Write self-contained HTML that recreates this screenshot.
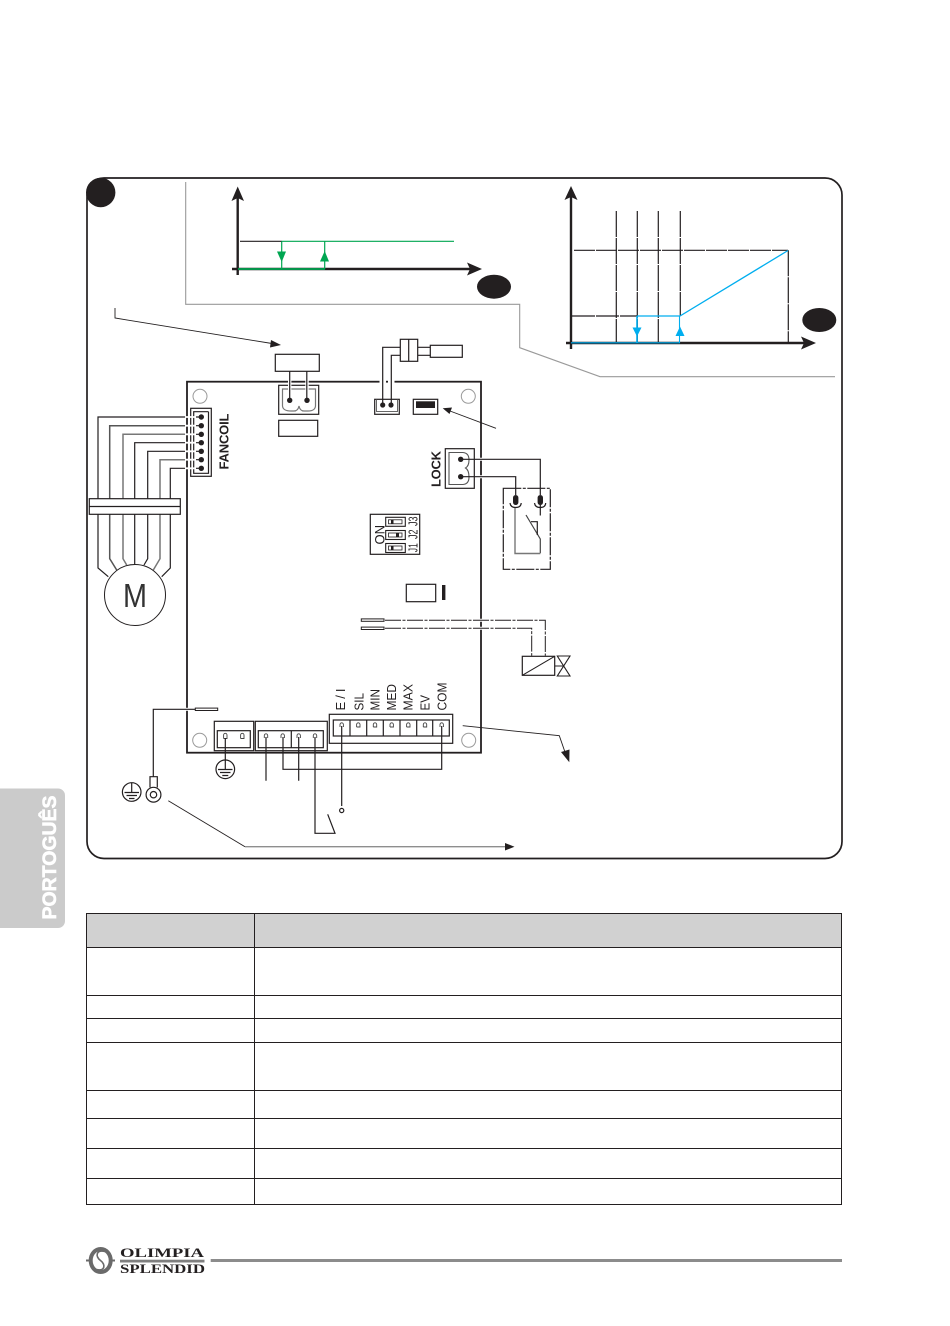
<!DOCTYPE html>
<html><head><meta charset="utf-8"><style>
html,body{margin:0;padding:0;background:#fff}
svg{display:block;filter:blur(0.25px)}
text{font-family:"Liberation Sans",sans-serif;fill:#231f20}
</style></head><body>
<svg width="950" height="1326" viewBox="0 0 950 1326" xmlns="http://www.w3.org/2000/svg">
<rect width="950" height="1326" fill="#fff"/>
<!-- side tab -->
<path d="M0 788.5H58a7 7 0 0 1 7 7V921a7 7 0 0 1-7 7H0Z" fill="#cbcbcb"/>
<text transform="translate(56,919.5) rotate(-90)" font-size="19" font-weight="700" textLength="124" lengthAdjust="spacingAndGlyphs" style="fill:#fff;stroke:#fff;stroke-width:0.6">PORTOGUÊS</text>
<!-- panel -->
<rect x="87" y="178" width="755" height="680.5" rx="17" fill="none" stroke="#231f20" stroke-width="1.7"/>
<circle cx="100.7" cy="192.5" r="14.7" fill="#231f20"/>
<ellipse cx="494" cy="286.7" rx="17" ry="12" fill="#231f20"/>
<ellipse cx="819.3" cy="320" rx="17" ry="12" fill="#231f20"/>
<path d="M185.7 182V304.3H519.7V347.7L600 376.7H835" fill="none" stroke="#9a9a9a" stroke-width="1.1"/>
<!-- chart 1 -->
<g fill="none" stroke="#231f20">
<path d="M237.7 192V275" stroke-width="2.4"/>
<path d="M232 269H472" stroke-width="2.4"/>
<path d="M240 241.3H282" stroke-width="1.1"/>
</g>
<path d="M237.7 186.5L244 201L237.7 198L231.5 201Z M482 269L467 262.5L470 269L467 275.5Z" fill="#231f20"/>
<g fill="none" stroke="#00a651">
<path d="M282 241.3H454" stroke-width="1.1"/>
<path d="M281.7 241.3V269M324.7 241.3V269" stroke-width="1.2"/>
<path d="M238 269H325" stroke-width="1.8"/>
</g>
<path d="M277 251.5H286L281.7 262Z M320 261.5H329L324.7 251Z" fill="#00a651"/>
<!-- chart 2 -->
<g fill="none" stroke="#231f20">
<path d="M571 192V349" stroke-width="2.4"/>
<path d="M566 343H806" stroke-width="2.4"/>
<path d="M616.3 211V343M637.3 211V343M658.3 211V343M680.3 211V316M788.3 250.3V343" stroke-width="1.2" stroke-dasharray="26 1"/>
<path d="M574 250.3H788" stroke-width="1.2" stroke-dasharray="21 1"/>
<path d="M572 316H637" stroke-width="1.2" stroke-dasharray="23 1"/>
</g>
<path d="M571 186L577.5 200L571 197L564.5 200Z M816 343L801 336.5L804 343L801 349.5Z" fill="#231f20"/>
<g fill="none" stroke="#00aeef">
<path d="M637 316H680L788 250.5" stroke-width="1.3"/>
<path d="M637 316V343" stroke-width="1.6"/>
<path d="M679.5 316V343" stroke-width="1.1"/>
<path d="M571 342.8H680" stroke-width="1.2"/>
</g>
<path d="M632.5 327.5H641.5L637 336.5Z M675.5 336H684.5L680 326.5Z" fill="#00aeef"/>
<!-- board -->
<rect x="187" y="381.7" width="294" height="371" fill="none" stroke="#231f20" stroke-width="1.8"/>
<!-- gaps on the board edge -->
<g stroke="#fff" stroke-width="3" fill="none">
<path d="M379.5 381.7H386M388 381.7H394.5"/>
<path d="M478 459.3H484M478 476.7H484M478 620.3H484M478 628.3H484"/>
<path d="M184 709.3H190"/>
</g>
<g fill="none" stroke="#9a9a9a" stroke-width="1">
<circle cx="200" cy="396.3" r="7"/><circle cx="468.3" cy="396.3" r="7"/><circle cx="199.7" cy="740.3" r="7"/><circle cx="468.7" cy="740.3" r="7"/>
</g>
<!-- arrows -->
<g fill="none" stroke="#231f20" stroke-width="0.9">
<path d="M115 308V318L272 343.5"/>
<path d="M496 428.3L450 411"/>
<path d="M462.7 725.7L559.3 735.7L566 755"/>
<path d="M168.3 800.7L245 846.7"/>
</g>
<path d="M245 846.7H506" fill="none" stroke="#8e8e8e" stroke-width="1.4"/>
<path d="M281 345L271 340L270 347.5Z M442.7 408.3L452 407.5L449.5 414Z M569.3 762.3L561 752L569.5 749.5Z M514.5 846.7L505 843V850.5Z" fill="#231f20"/>
<!-- connector top -->
<g fill="none" stroke="#231f20" stroke-width="1.2">
<rect x="275.3" y="354.3" width="44" height="17" fill="#fff"/>
<rect x="278.7" y="385.3" width="40" height="29"/>
<rect x="278.7" y="420.3" width="39" height="16"/>
</g>
<path d="M282.5 389V406Q283 411 291 411H294Q298 411 299 406Q300 411 304 411H308Q315 411 315.5 406V389Z" fill="none" stroke="#777" stroke-width="1.2"/>
<path d="M289.7 372V400M307 372V400" fill="none" stroke="#fff" stroke-width="3.4"/>
<path d="M289.7 371V400M306.8 371V400" fill="none" stroke="#231f20" stroke-width="1.2"/>
<circle cx="289.7" cy="400.3" r="2.7" fill="#231f20"/><circle cx="307" cy="400.3" r="2.7" fill="#231f20"/>
<!-- sensor -->
<g fill="none" stroke="#231f20" stroke-width="1.2">
<rect x="374.7" y="399.3" width="24.6" height="15"/>
<path d="M376.5 399.5V411.5H397.5V399.5" stroke="#666" stroke-width="1"/>
<path d="M382.7 405V347.3H400.3M391.3 405V355.3H400.3"/>
<rect x="400.3" y="339.3" width="17.4" height="22"/>
<path d="M408.7 339.3V361.3M417.7 347.3H430.3M417.7 355.3H430.3"/>
<rect x="430.3" y="345.3" width="32" height="12"/>
<rect x="413.3" y="399.3" width="24.4" height="15"/>
</g>
<circle cx="382.7" cy="405" r="2.6" fill="#231f20"/><circle cx="391" cy="405" r="2.6" fill="#231f20"/>
<rect x="416" y="401.3" width="19" height="6.7" fill="#231f20"/>
<!-- FANCOIL -->
<g fill="none" stroke="#231f20" stroke-width="1.2">
<rect x="190.7" y="408.3" width="20.6" height="68"/>
<path d="M208.5 411.7H193.7V473.3H208.5V411.7"/>
<path d="M186 417H98V568L108.3 576.7"/>
<path d="M186 425.7H109.7V558.7L116.7 570" stroke="#555" stroke-width="1.5"/>
<path d="M186 434.3H123V558.7L126.7 565" stroke="#777" stroke-width="1.5"/>
<path d="M186 442.7H134.7V565"/>
<path d="M186 451.3H147.7V558.7L144 565"/>
<path d="M186 459.7H160V558.7L153.3 570" stroke="#777" stroke-width="1.5"/>
<path d="M186 468.3H170.3V568L161.7 576.7"/>
<path d="M196 417H201M196 425.7H201M196 434.3H201M196 442.7H201M196 451.3H201M196 459.7H201M196 468.3H201"/>
</g>
<g stroke="#fff" stroke-width="1.8" fill="none">
<path d="M185 417H196M185 425.7H196M185 434.3H196M185 442.7H196M185 451.3H196M185 459.7H196M185 468.3H196"/>
</g>
<g fill="#231f20">
<circle cx="201.3" cy="417" r="2.7"/><circle cx="201.3" cy="425.7" r="2.7"/><circle cx="201.3" cy="434.3" r="2.7"/><circle cx="201.3" cy="442.7" r="2.7"/><circle cx="201.3" cy="451.3" r="2.7"/><circle cx="201.3" cy="459.7" r="2.7"/><circle cx="201.3" cy="468.3" r="2.7"/>
</g>
<text transform="translate(228.3,469.5) rotate(-90)" font-size="13" font-weight="700" textLength="56">FANCOIL</text>
<rect x="89.3" y="498.7" width="91" height="15.6" fill="#fff" stroke="#231f20" stroke-width="1.2"/>
<path d="M89.3 506.5H180.3" stroke="#231f20" stroke-width="1.2"/>
<circle cx="135" cy="595" r="30.5" fill="#fff" stroke="#231f20" stroke-width="1"/>
<text x="135" y="606.8" font-size="33.5" text-anchor="middle" style="fill:#333" textLength="24" lengthAdjust="spacingAndGlyphs">M</text>
<!-- LOCK -->
<rect x="445.3" y="448.7" width="29" height="39.6" fill="#fff" stroke="#231f20" stroke-width="1.2"/>
<path d="M449 452.5H463Q469 453 469 460Q469 466 465.5 468Q469 470 469 477Q469 484 463 484.5H449Z" fill="none" stroke="#555" stroke-width="1.1"/>
<circle cx="460.7" cy="459.3" r="2.7" fill="#231f20"/><circle cx="460.7" cy="476.7" r="2.7" fill="#231f20"/>
<text transform="translate(440.3,487) rotate(-90)" font-size="13" font-weight="700" textLength="36">LOCK</text>
<g fill="none" stroke="#231f20" stroke-width="1.2">
<path d="M460.7 459.3H540.3V495M460.7 476.7H515.7V495"/>
<rect x="503.3" y="488.3" width="47" height="81" stroke-dasharray="18 1.5 3 1.5"/>
<path d="M510 503Q510.5 507.5 515.7 507.5Q521 507.5 521.2 503M534.5 503Q535 507.5 540.3 507.5Q545.5 507.5 545.7 503"/>
<path d="M540.3 505V515.5"/>
<path d="M526 515L540.3 539V553.3" stroke="#444"/>
<path d="M531 521.7H537.3V535"/>
<path d="M515 508V553.5H540.3" stroke="#777" stroke-width="1.4"/>
</g>
<rect x="513" y="495" width="5.4" height="10" rx="2.7" fill="#231f20"/>
<rect x="537.6" y="495" width="5.4" height="10" rx="2.7" fill="#231f20"/>
<!-- ON block -->
<rect x="370.3" y="514.3" width="49.4" height="40" fill="none" stroke="#231f20" stroke-width="1.2"/>
<g fill="none" stroke="#231f20" stroke-width="1.1">
<rect x="385.7" y="517.3" width="19.6" height="9"/><rect x="385.7" y="530.5" width="19.6" height="9"/><rect x="385.7" y="543.5" width="19.6" height="9"/>
<rect x="388.5" y="519.8" width="13.5" height="4" stroke-width="0.8"/><rect x="388.5" y="533" width="13.5" height="4" stroke-width="0.8"/><rect x="388.5" y="546" width="13.5" height="4" stroke-width="0.8"/>
</g>
<rect x="391" y="519.8" width="2.5" height="4" fill="#231f20"/><rect x="396" y="533" width="3" height="4" fill="#231f20"/><rect x="391" y="546" width="2.5" height="4" fill="#231f20"/>
<text transform="translate(384.3,544.5) rotate(-90)" font-size="14" textLength="19.5" lengthAdjust="spacingAndGlyphs">ON</text>
<text transform="translate(417.5,552.3) rotate(-90)" font-size="13" textLength="9" lengthAdjust="spacingAndGlyphs">J1</text>
<text transform="translate(417.5,539) rotate(-90)" font-size="13" textLength="9.5" lengthAdjust="spacingAndGlyphs">J2</text>
<text transform="translate(417.5,526) rotate(-90)" font-size="13" textLength="9.5" lengthAdjust="spacingAndGlyphs">J3</text>
<rect x="406.3" y="584.3" width="29.4" height="17.4" fill="none" stroke="#231f20" stroke-width="1.2"/>
<rect x="442" y="585" width="3.4" height="15" fill="#231f20"/>
<!-- valve -->
<g fill="none" stroke="#231f20" stroke-width="1">
<rect x="361.3" y="618.9" width="22.7" height="2.4"/><rect x="361.3" y="627.1" width="22.7" height="2.4"/>
<path d="M385 620.3H545.3V655.7M385 628.3H531.7V655.7" stroke-dasharray="16 1.5 3 1.5"/>
<rect x="522.3" y="656.3" width="32.4" height="19" stroke-width="1.2"/>
<path d="M522.3 675.3L554.7 656.3M554.7 666H563.7M557.3 656H570L557.3 676H570Z" stroke-width="1.1"/>
</g>
<!-- terminals -->
<g fill="none" stroke="#231f20" stroke-width="1.2">
<rect x="329.3" y="714.3" width="123.4" height="29" fill="#fff"/>
<rect x="333.3" y="720" width="116" height="16"/>
<path d="M350 720V736M366.7 720V736M383.3 720V736M400 720V736M416.7 720V736M432.7 720V736"/>
<rect x="255.3" y="721.3" width="72" height="29.4" fill="#fff"/>
<rect x="258.3" y="730.7" width="65" height="17"/>
<path d="M291.3 730.7V747.7"/>
<rect x="214.3" y="721.3" width="39.4" height="29.4" fill="#fff"/>
<rect x="217.3" y="730.7" width="33" height="17"/>
</g>
<g fill="none" stroke="#444" stroke-width="0.9">
<path d="M340 727V724.5a1.7 1.7 0 0 1 3.4 0V727M356.6 727V724.5a1.7 1.7 0 0 1 3.4 0V727H356.6M373.3 727V724.5a1.7 1.7 0 0 1 3.4 0V727H373.3M390 727V724.5a1.7 1.7 0 0 1 3.4 0V727H390M406.6 727V724.5a1.7 1.7 0 0 1 3.4 0V727H406.6M423.3 727V724.5a1.7 1.7 0 0 1 3.4 0V727H423.3M440 727V724.5a1.7 1.7 0 0 1 3.4 0V727"/>
<path d="M264.3 738V735.5a1.7 1.7 0 0 1 3.4 0V738M281 738V735.5a1.7 1.7 0 0 1 3.4 0V738M297 738V735.5a1.7 1.7 0 0 1 3.4 0V738M313.3 738V735.5a1.7 1.7 0 0 1 3.4 0V738"/>
<path d="M223.6 738.5V735a1.7 1.7 0 0 1 3.4 0V738.5H223.6M240.6 738.5V735a1.7 1.7 0 0 1 3.4 0V738.5H240.6"/>
</g>
<g fill="none" stroke="#231f20" stroke-width="1.2">
<path d="M341.7 726V806"/>
<circle cx="341.7" cy="810.5" r="2.1"/>
<path d="M441.7 726V769.3H283V737M266 737V780.7M298.7 737V780.7M315 737V833.3H335L327.7 814.3"/>
<path d="M225.3 738V760"/>
<circle cx="225.3" cy="769.3" r="9.3"/>
<path d="M225.3 760V769M218 769.5H232.5M220 772.5H230.5M222.3 775.5H228.3"/>
<circle cx="131.7" cy="792" r="9.3"/>
<path d="M131.7 783V792M124.5 792.5H139M126.5 795.5H137M129 798.5H134.5"/>
<path d="M153.3 776.7V709.3H195.3"/>
<rect x="195.3" y="708.1" width="22.4" height="2.4" stroke-width="1"/>
<path d="M150 787.5V776.7H157.3V787.5"/>
<circle cx="153.5" cy="794.7" r="7.4"/>
<circle cx="153.5" cy="794.7" r="3.2"/>
</g>
<g font-size="13">
<text transform="translate(345,710.5) rotate(-90)" textLength="22" xml:space="preserve">E / I</text>
<text transform="translate(363.3,710.5) rotate(-90)" textLength="17.5" lengthAdjust="spacingAndGlyphs">SIL</text>
<text transform="translate(379.3,710.5) rotate(-90)" textLength="21.5" lengthAdjust="spacingAndGlyphs">MIN</text>
<text transform="translate(396,710.5) rotate(-90)" textLength="26.5" lengthAdjust="spacingAndGlyphs">MED</text>
<text transform="translate(412.7,710.5) rotate(-90)" textLength="26.5" lengthAdjust="spacingAndGlyphs">MAX</text>
<text transform="translate(429.3,710.5) rotate(-90)" textLength="15.5" lengthAdjust="spacingAndGlyphs">EV</text>
<text transform="translate(446.7,710.5) rotate(-90)" textLength="28" lengthAdjust="spacingAndGlyphs">COM</text>
</g>
<!-- table -->
<rect x="86.5" y="913.5" width="755" height="34" fill="#d1d1d1"/>
<g fill="none" stroke="#231f20" stroke-width="1">
<rect x="86.5" y="913.5" width="755" height="291"/>
<path d="M254.5 913.5V1204.5M86.5 947.5H841.5M86.5 995.5H841.5M86.5 1018.5H841.5M86.5 1042.5H841.5M86.5 1090.5H841.5M86.5 1118.5H841.5M86.5 1148.5H841.5M86.5 1178.5H841.5"/>
</g>
<!-- logo -->
<ellipse cx="100.7" cy="1260.5" rx="10" ry="11.5" fill="none" stroke="#6a6a6a" stroke-width="4"/>
<path d="M86 1260.5H90M111.5 1260.5H115" stroke="#6a6a6a" stroke-width="2"/>
<path d="M105 1251.5C96 1249.5 95 1256.5 100.5 1260.5C106 1264.5 105 1271.5 96.5 1269.5" fill="none" stroke="#6a6a6a" stroke-width="1.6"/>
<text x="120" y="1257" font-size="12.5" font-weight="700" textLength="84" lengthAdjust="spacingAndGlyphs" style="font-family:'Liberation Serif',serif">OLIMPIA</text>
<rect x="120" y="1259.7" width="84.5" height="2.8" fill="#7f7f7f"/>
<text x="120" y="1273" font-size="12.5" font-weight="700" textLength="85" lengthAdjust="spacingAndGlyphs" style="font-family:'Liberation Serif',serif">SPLENDID</text>
<rect x="210.7" y="1259" width="631.3" height="3" fill="#8c8c8c"/>
</svg>
</body></html>
